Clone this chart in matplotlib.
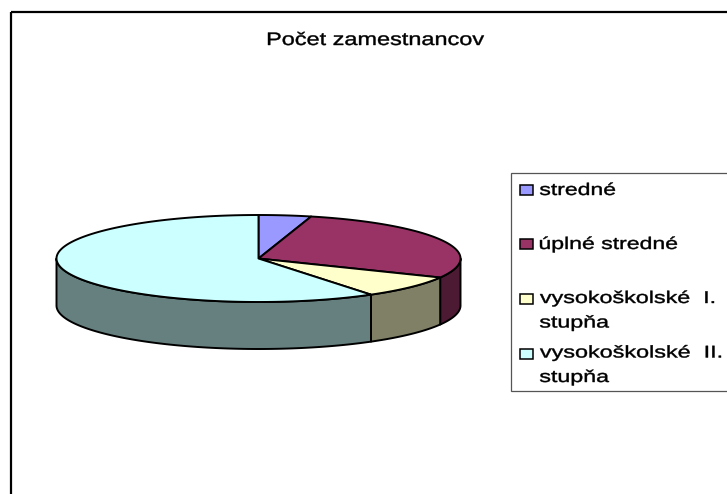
import numpy as np
import matplotlib
matplotlib.use("Agg")
import matplotlib.pyplot as plt
from matplotlib.patches import Rectangle
from matplotlib.text import Text
from matplotlib.textpath import TextPath
from matplotlib.transforms import Affine2D

plt.rcParams['font.family'] = ['Liberation Sans', 'DejaVu Sans']

title = "Počet zamestnancov"
categories = ["stredné", "úplné stredné", "vysokoškolské  I.\nstupňa", "vysokoškolské  II.\nstupňa"]
values = [4.2, 28.0, 8.4, 59.4]
top_colors = ["#9999FF", "#993366", "#FFFFCC", "#CCFFFF"]
side_colors = ["#4D4D80", "#4D1A33", "#808066", "#668080"]

W, H = 727, 494
CX, CY, RX, RY, DEPTH = 258.5, 258.5, 202.0, 43.5, 47.0
EDGE = dict(edgecolor="black", linewidth=1.4, joinstyle="round")


class StretchedText(Text):
    """A text artist whose glyphs are stretched horizontally to a given pixel width."""

    def __init__(self, x, y, s, target_width, **kw):
        super().__init__(x, y, s, **kw)
        self.target_width = target_width

    def draw(self, renderer):
        prop = self.get_fontproperties()
        px = prop.get_size_in_points() * renderer.dpi / 72
        path = TextPath((0, 0), self.get_text(), size=px, prop=prop)
        ext = path.get_extents()
        x0, y0 = self.get_transform().transform(self.get_position())
        tr = (Affine2D().translate(-ext.x0, 0)
              .scale(self.target_width / ext.width, 1).translate(x0, y0))
        rgb = matplotlib.colors.to_rgb(self.get_color())
        gc = renderer.new_gc()
        gc.set_foreground(rgb)
        gc.set_linewidth(0.3)
        renderer.draw_path(gc, path, tr, rgbFace=rgb)
        gc.restore()


fig = plt.figure(figsize=(W / 100, H / 100), dpi=100, facecolor="white")
ax = fig.add_axes([0, 0, 1, 1])
ax.set_xlim(0, W)
ax.set_ylim(H, 0)
ax.axis("off")

# chart frame (runs off the right and bottom edge)
ax.add_patch(Rectangle((11, 12), W + 20, H + 20, fill=False, edgecolor="black", linewidth=1.6))


def rim(theta):
    return CX + RX * np.sin(theta), CY - RY * np.cos(theta)


def stretched(x, baseline, s, target_width, size):
    t = StretchedText(x, baseline, s, target_width, fontsize=size, color="black",
                      va="baseline", ha="left", transform=ax.transData)
    ax.add_artist(t)


fractions = np.array(values) / np.sum(values)
edges = np.concatenate([[0.0], np.cumsum(fractions)]) * 2 * np.pi

# side faces, visible on the front half only
for a, b, col in zip(edges[:-1], edges[1:], side_colors):
    lo, hi = max(a, np.pi / 2), min(b, 3 * np.pi / 2)
    if hi <= lo:
        continue
    t = np.linspace(lo, hi, 200)
    x, y = rim(t)
    ax.fill(np.r_[x, x[::-1]], np.r_[y, y[::-1] + DEPTH], facecolor=col, **EDGE)

# top faces
for a, b, col in zip(edges[:-1], edges[1:], top_colors):
    t = np.linspace(a, b, 300)
    x, y = rim(t)
    ax.fill(np.r_[CX, x], np.r_[CY, y], facecolor=col, **EDGE)

stretched(268, 45, title, 216, 13)

# legend (cut off by the right edge of the picture)
ax.add_patch(Rectangle((511, 173), W, 218, facecolor="white", edgecolor="#555555", linewidth=0.9))
box_y = [189.5, 244, 299, 354]
label_rows = [
    [(195, 75)],
    [(249, 137)],
    [(303, 174), (327.5, 69)],
    [(357.5, 181), (382, 69)],
]
for by, label, rows, col in zip(box_y, categories, label_rows, top_colors):
    ax.add_patch(Rectangle((520, by - 5), 12.5, 10, facecolor=col, edgecolor="black", linewidth=1.1))
    for line, (baseline, width) in zip(label.split("\n"), rows):
        stretched(540, baseline, line, width, 12.2)

fig.savefig("out.png", dpi=100)
